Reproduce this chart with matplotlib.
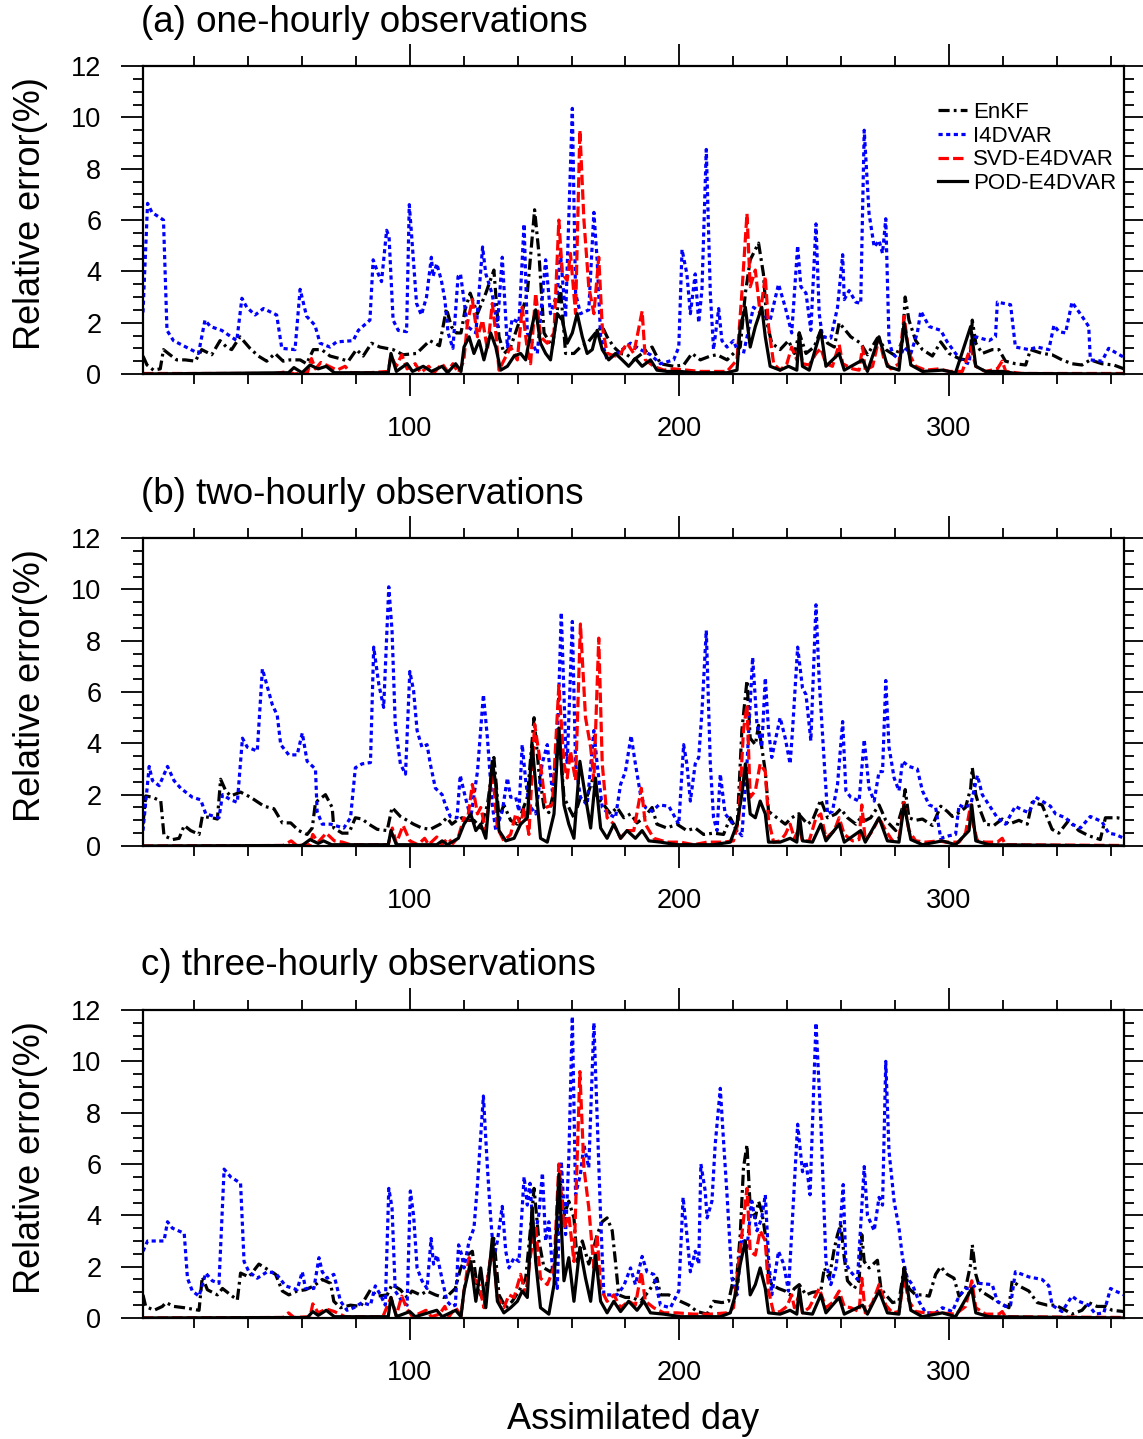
import numpy as np
import matplotlib
matplotlib.use("Agg")
from matplotlib import pyplot as plt
from matplotlib.ticker import MultipleLocator

plt.rcParams["font.family"] = ["Liberation Sans", "DejaVu Sans"]
plt.rcParams["lines.scale_dashes"] = False

titles = ["(a) one-hourly observations", "(b) two-hourly observations",
          "c) three-hourly observations"]
names = ["EnKF", "I4DVAR", "SVD-E4DVAR", "POD-E4DVAR"]
colors = ["black", "blue", "red", "black"]
styles = [(0, (8, 3, 2, 3)), (0, (3, 2.5)), (0, (7.5, 3)), "-"]

# (day, relative error %)
# ---- (a) one-hourly
a_enkf = [(1, 0.7), (2.5, 0.35), (4.9, 0.15), (7.4, 0.2), (8.6, 0.95), (11, 0.75), (13.5, 0.55), (16.7, 0.55),
          (20.4, 0.5), (22.8, 0.95), (26.5, 0.75), (29.6, 1.3), (32, 1.05), (33.9, 0.95), (37, 1.45), (40.7, 1.0),
          (43.8, 0.7), (46.9, 0.5), (50, 0.8), (53, 0.5), (55.5, 0.55), (59.3, 0.55), (61.7, 0.4), (64.2, 0.95),
          (67.3, 0.95), (70.4, 0.7), (74, 0.6), (77.2, 0.5), (80.2, 0.95), (82.7, 0.7), (85.8, 1.2), (88.9, 1.05),
          (93.8, 0.95), (97.5, 0.75), (102.5, 0.8), (107.4, 1.3), (111, 1.1), (113.6, 2.55), (115.4, 1.85),
          (117.3, 1.6), (119, 1.6), (120.5, 2.5), (122.4, 3.15), (125.1, 2.35), (128.2, 3.15), (131.2, 4.05),
          (133.1, 1.45), (135, 0.8), (137.4, 1.05), (140.5, 2.0), (143.6, 3.15), (146.3, 6.4), (147.9, 4.7),
          (149.8, 1.6), (152.9, 1.05), (155.9, 3.4), (157.8, 0.8), (160.9, 0.8), (163.3, 1.05), (165.8, 1.2),
          (168.9, 1.6), (171.4, 1.85), (173.2, 1.45), (175.7, 1.05), (178.2, 0.8), (180.6, 0.75), (183.1, 0.55),
          (186.2, 0.8), (189.9, 1.05), (193, 0.4), (197.9, 0.3), (201.6, 0.35), (204.7, 0.8), (207.8, 0.55),
          (211.5, 0.7), (214, 0.75), (217.7, 0.55), (220.1, 0.8), (222.6, 1.05), (224.5, 3.15), (226.3, 4.45),
          (229.4, 5.1), (231.2, 3.9), (232.5, 2.0), (234.3, 1.2), (237.4, 0.95), (240.5, 1.3), (242.7, 0.8),
          (244.5, 1.6), (247, 0.8), (250, 1.05), (252.5, 1.7), (255, 1.2), (257.5, 1.05), (259.3, 2.0),
          (263.6, 1.45), (267.3, 1.2), (269.8, 0.75), (273.5, 1.4), (276.6, 0.95), (280.3, 0.7), (282.8, 1.3),
          (283.8, 3.0), (285.2, 2.1), (287.7, 1.3), (290.2, 0.95), (293.9, 0.7), (297, 1.25), (300.1, 0.8),
          (303.8, 0.6), (306.2, 0.55), (308.1, 0.85), (308.7, 2.1), (310, 1.2), (312.4, 0.8), (316.1, 0.95),
          (318.6, 0.95), (321, 0.5), (324.7, 0.4), (328.5, 0.35), (330.3, 0.95), (334.6, 0.8), (338.3, 0.75),
          (342, 0.55), (345.7, 0.4), (349.4, 0.35), (352.5, 0.55), (356.8, 0.4), (361.2, 0.35), (365, 0.2)]
a_i4dvar = [(1, 2.4), (2.7, 6.65), (4.3, 6.3), (8.6, 6.0), (9.9, 1.7), (12.3, 1.3), (16, 1.1), (21.6, 0.8),
            (24, 2.1), (26, 1.85), (30.2, 1.7), (35.8, 1.3), (37.7, 2.95), (39.5, 2.6), (42.6, 2.3), (45.7, 2.55),
            (50.6, 2.3), (52.5, 1.0), (57.4, 0.95), (59.3, 3.3), (61.7, 2.25), (64.8, 1.9), (66.7, 1.2),
            (70.4, 1.05), (72.8, 1.25), (79, 1.3), (80.9, 1.7), (85.2, 2.1), (86.4, 4.45), (88.3, 3.9),
            (89.5, 3.6), (91.4, 5.6), (92.3, 5.35), (93.8, 2.1), (95.7, 1.7), (98.8, 1.65), (99.8, 6.6),
            (100.6, 5.5), (102.5, 2.75), (104.3, 2.3), (106.2, 3.0), (108, 4.55), (108.6, 3.8), (110, 4.3),
            (111.7, 3.65), (113, 2.9), (114.2, 1.6), (116, 1.0), (117.9, 3.8), (118.8, 3.9), (121.4, 1.85),
            (124.5, 1.6), (127, 4.95), (128.2, 3.9), (130.6, 3.1), (132.5, 1.85), (134.3, 4.55), (135.6, 2.2),
            (136.2, 1.05), (138, 2.15), (140.5, 2.0), (142.4, 5.85), (143.6, 1.6), (147.3, 0.8), (150.4, 4.45),
            (152.2, 2.35), (154.7, 3.15), (155.9, 4.7), (157.8, 2.2), (160.3, 10.35), (161.5, 3.15), (163.3, 2.35),
            (166.4, 2.5), (168.3, 6.3), (169.5, 4.45), (170.8, 1.45), (173.2, 0.55), (176.9, 0.8), (181.9, 1.2),
            (185.6, 0.95), (189.3, 0.75), (193, 0.4), (197.9, 0.55), (199.8, 1.05), (201, 4.85), (202.8, 3.9),
            (204.1, 2.35), (205.9, 3.9), (207.2, 2.0), (208.4, 3.3), (210, 8.75), (211.5, 3.15), (212.7, 0.95),
            (214.6, 2.55), (215.8, 1.3), (217.7, 1.05), (220.1, 1.3), (222, 0.8), (223.8, 0.8), (227.5, 2.6),
            (230.6, 2.35), (233.7, 2.1), (236.8, 3.5), (239.3, 2.6), (241.7, 1.6), (243.9, 5.0), (245.1, 3.4),
            (247, 3.15), (248.8, 1.7), (250.7, 5.85), (251.9, 2.35), (253.1, 1.45), (256.2, 1.4), (258.7, 2.6),
            (260.6, 4.65), (261.2, 2.9), (263, 3.25), (265.5, 2.8), (267.3, 2.75), (268.6, 9.5), (270.4, 6.25),
            (272.3, 4.95), (274.1, 5.2), (275.4, 4.7), (276.6, 6.05), (277.8, 1.3), (279.1, 0.8), (281.5, 0.55),
            (283.4, 1.05), (285.9, 0.8), (288.3, 1.6), (289.6, 2.45), (292.7, 1.85), (297, 1.7), (299.4, 1.25),
            (302.5, 0.8), (305, 0.5), (307.5, 0.4), (308.1, 0.95), (310, 1.45), (314.9, 1.3), (317.3, 1.45),
            (318, 2.8), (322.9, 2.7), (324.7, 1.05), (329.7, 0.95), (332.8, 1.05), (337.1, 0.95), (339, 1.9),
            (340.8, 1.65), (343.3, 1.6), (345.7, 2.8), (349.4, 2.25), (351.9, 1.85), (352.5, 0.55), (356.8, 0.5),
            (359.3, 1.0), (362.4, 0.8), (365, 0.65)]
a_svd = [(1, 0.02), (50, 0.02), (55, 0.1), (57, 0.0), (62, 0.05), (63.5, 0.6), (65, 0.2), (67, 0.45), (70, 0.3),
         (73, 0.15), (76, 0.3), (78, 0.05), (85, 0.05), (92, 0.1), (93, 0.7), (95, 0.3), (97, 0.75), (99, 0.2),
         (102, 0.4), (104, 0.05), (107, 0.3), (109, 0.05), (112, 0.4), (114, 0.1), (116, 0.4), (118, 0.05),
         (120, 0.5), (121.4, 2.0), (123.2, 2.9), (125.1, 1.45), (127, 2.1), (128.8, 0.95), (130.6, 2.75),
         (131.9, 1.6), (133.1, 0.15), (135, 0.55), (137.4, 1.05), (139.9, 0.55), (141.7, 2.6), (143.6, 0.95),
         (144.8, 0.4), (146.7, 3.15), (148.5, 1.45), (151, 1.2), (153.5, 1.6), (155.3, 6.0), (156.6, 3.9),
         (158.4, 3.65), (159.6, 4.7), (161.5, 2.35), (163.1, 9.5), (164.6, 6.0), (166.4, 3.4), (168.3, 2.35),
         (170.1, 4.55), (171.4, 1.85), (173.2, 0.8), (176.3, 0.7), (178.2, 0.8), (180.6, 1.2), (183.1, 0.8),
         (186.2, 2.45), (187.4, 0.55), (190.5, 0.3), (194.2, 0.15), (197.9, 0.2), (202.8, 0.15), (207.8, 0.1),
         (212.7, 0.1), (217.7, 0.1), (221.4, 0.55), (223.2, 3.15), (225.1, 6.25), (226.3, 3.4), (228.2, 4.05),
         (230, 2.35), (231.9, 3.8), (233.1, 1.85), (235, 0.4), (237.4, 0.15), (239.9, 0.4), (241.7, 1.05),
         (243.6, 0.55), (244.5, 1.25), (245.7, 0.4), (248.2, 0.35), (250.7, 0.8), (252.5, 1.0), (254.4, 0.4),
         (256.8, 0.3), (259.3, 1.15), (260.6, 0.4), (264.3, 0.2), (266.7, 0.15), (268, 1.05), (269, 0.15),
         (271.7, 0.3), (274.1, 1.4), (276, 0.55), (278.5, 0.2), (281.5, 0.4), (283.4, 2.25), (285.2, 0.8),
         (287.7, 0.3), (291.4, 0.15), (296.4, 0.2), (300.1, 0.1), (305, 0.1), (308.1, 1.05), (310, 0.3),
         (313.6, 0.1), (318, 0.2), (319.8, 0.5), (321.1, 0.1), (327.2, 0.02), (365, 0.02)]
a_pod = [(1, 0.0), (55, 0.05), (57, 0.25), (60, 0.05), (63, 0.35), (66, 0.2), (69, 0.3), (72, 0.05), (80, 0.05),
         (92, 0.05), (93, 0.8), (95, 0.1), (99, 0.4), (101, 0.1), (105, 0.3), (108, 0.1), (112, 0.3), (114, 0.05),
         (117, 0.4), (119, 0.1), (120.1, 1.05), (122, 1.45), (123.8, 0.8), (125.7, 1.3), (127.5, 0.55), (130, 1.6),
         (131.9, 1.05), (133.7, 0.15), (136.2, 0.3), (138.7, 0.7), (141.1, 0.8), (143, 0.55), (144.8, 1.6),
         (146.7, 2.5), (148.5, 1.2), (150.4, 0.8), (152.2, 0.55), (154.7, 2.35), (156.6, 2.1), (158.4, 1.2),
         (160.3, 1.6), (162.1, 2.35), (164, 1.45), (165.8, 0.8), (167.7, 0.95), (169.5, 1.7), (171.4, 0.95),
         (173.8, 0.55), (176.3, 0.8), (178.8, 0.55), (181.2, 0.3), (183.7, 0.6), (186.2, 0.3), (189.3, 0.55),
         (191.7, 0.15), (195.4, 0.1), (200.4, 0.1), (205.3, 0.05), (211.5, 0.05), (217.7, 0.05), (221.4, 0.15),
         (222.6, 1.85), (224.5, 2.6), (226.3, 1.05), (228.2, 1.85), (230.6, 2.6), (231.9, 1.45), (233.7, 0.3),
         (237.4, 0.15), (240.5, 0.3), (243.6, 0.15), (244.5, 1.6), (245.7, 0.3), (248.2, 0.15), (252.5, 1.7),
         (254.4, 0.3), (259.3, 0.8), (261.2, 0.15), (268, 0.55), (269.8, 0.1), (274.1, 1.45), (277.2, 0.3),
         (281.5, 0.15), (283.4, 2.0), (285.9, 0.35), (290.2, 0.1), (297.6, 0.15), (302.5, 0.05), (308.1, 1.85),
         (310, 0.3), (313.6, 0.1), (319.8, 0.1), (325, 0.02), (365, 0.0)]

# ---- (b) two-hourly
b_enkf = [(1, 0.85), (2, 1.95), (4.5, 1.9), (7.6, 1.75), (8.8, 0.4), (12, 0.25), (14.4, 0.3), (16.3, 0.8),
          (18.7, 0.6), (21.8, 0.45), (23, 1.15), (26.7, 1.1), (28.6, 1.05), (29.8, 2.6), (31.7, 2.15), (33.5, 1.95),
          (37.2, 2.1), (40.9, 1.9), (45.9, 1.55), (49.6, 1.45), (52.7, 0.9), (55.8, 0.9), (58.8, 0.6), (61.9, 0.45),
          (63.8, 0.7), (65, 1.7), (68.7, 2.0), (71.2, 1.5), (71.8, 0.7), (74.9, 0.5), (77.4, 0.5), (79.8, 1.1),
          (82.3, 1.05), (84.8, 0.85), (87.9, 0.65), (91.6, 0.6), (93.4, 1.5), (96.5, 1.15), (99, 1.0),
          (101.4, 0.85), (104.5, 0.7), (107.6, 0.65), (111.3, 0.85), (113.8, 1.1), (115.6, 0.85), (117.5, 1.0),
          (119.4, 1.1), (121.4, 1.0), (123.8, 1.0), (126.3, 0.7), (128.8, 1.6), (131.2, 3.45), (133.1, 1.1),
          (134.9, 1.6), (137.4, 1.0), (139.9, 0.85), (141.7, 1.35), (143.6, 1.9), (146.1, 5.0), (147.9, 2.9),
          (149.8, 1.5), (151.6, 1.3), (153.5, 2.15), (155.3, 4.5), (157.2, 1.9), (159, 1.5), (160.9, 1.1),
          (163.3, 1.9), (165.2, 1.75), (167.7, 2.55), (169.5, 1.9), (172, 1.6), (174.5, 1.25), (176.9, 1.5),
          (179.4, 1.1), (181.9, 1.25), (184.3, 0.9), (186.8, 1.1), (189.9, 1.5), (191.7, 0.85), (195.4, 0.7),
          (199.1, 0.85), (202.8, 0.6), (205.9, 0.7), (209, 0.45), (212.7, 0.5), (216.4, 0.45), (218.9, 1.1),
          (221.4, 0.6), (223.2, 4.5), (225.1, 6.45), (226.3, 4.2), (228.2, 3.95), (229.4, 4.7), (230.6, 3.85),
          (231.9, 2.9), (233.1, 1.35), (236.2, 1.1), (239.3, 0.85), (241.7, 1.1), (244.2, 1.25), (247.6, 0.85),
          (249.4, 1.0), (252.5, 1.8), (255, 1.1), (258.1, 1.25), (259.9, 1.45), (262.4, 1.1), (265.5, 0.85),
          (267.3, 1.1), (269.2, 1.0), (271, 1.1), (274.1, 1.6), (276.6, 1.0), (280.3, 0.6), (282.8, 1.5),
          (283.8, 2.2), (285.2, 1.1), (287.7, 1.0), (290.2, 1.05), (293.9, 0.8), (297, 1.55), (299.4, 1.35),
          (301.3, 1.15), (303.8, 1.3), (306.2, 1.5), (308.1, 2.25), (308.7, 3.05), (310, 2.0), (311.8, 1.35),
          (313.6, 0.85), (316.7, 0.8), (319.8, 1.05), (322.3, 0.85), (326, 1.0), (329.1, 0.85), (330.9, 1.7),
          (334.6, 1.6), (338.3, 0.65), (340.8, 0.5), (344.5, 1.0), (348.2, 0.6), (351.9, 0.4), (356.2, 0.25),
          (358.1, 1.1), (362.4, 1.1), (365, 1.05)]
b_i4dvar = [(1, 0.6), (3.3, 3.1), (4.5, 2.55), (7, 2.35), (10.1, 3.1), (12.5, 2.55), (15, 2.25), (19.3, 1.9),
            (22.4, 1.8), (24.3, 1.25), (29.2, 1.1), (30.5, 2.0), (33.5, 1.8), (36, 1.7), (37.9, 4.2), (39.7, 3.85),
            (43.4, 3.7), (45.3, 6.9), (46.5, 6.45), (49, 5.5), (50.8, 5.1), (52.1, 3.95), (55.1, 3.55),
            (58.2, 3.55), (60.1, 4.4), (61.9, 3.3), (65, 3.0), (65.6, 1.35), (67.5, 0.85), (70.6, 0.85),
            (75.5, 0.7), (78, 1.1), (79.8, 3.05), (82.3, 3.2), (85.4, 3.25), (86.6, 7.75), (88.5, 6.3),
            (90.3, 5.4), (92.2, 10.1), (93.4, 8.4), (94.6, 4.75), (96.5, 3.2), (98.4, 2.8), (100, 6.8),
            (101.4, 6.05), (102.7, 4.5), (104.5, 3.85), (106.4, 3.95), (107.6, 3.2), (109.5, 2.25), (112, 2.0),
            (113.2, 1.6), (115, 1.15), (117.5, 1.1), (118.7, 2.75), (120.6, 1.9), (122.6, 1.1), (125.1, 2.9),
            (127.3, 5.9), (128.8, 4.2), (130.6, 1.6), (131.9, 0.6), (134.3, 1.35), (136.2, 2.65), (137.4, 1.9),
            (139.3, 1.9), (140.5, 1.35), (141.7, 3.95), (143, 2.55), (144.2, 1.6), (146.7, 1.25), (149.1, 3.2),
            (151, 3.95), (152.9, 2.15), (154.7, 3.95), (156.2, 9.1), (157.8, 3.95), (158.4, 3.2), (160.3, 8.75),
            (161.5, 3.2), (163.3, 1.9), (165.8, 1.6), (168.3, 4.5), (169.5, 3.2), (171.4, 1.5), (173.8, 1.25),
            (176.3, 1.1), (178.2, 2.4), (180, 2.9), (182.1, 4.3), (183.7, 3.2), (185.6, 2.0), (187.4, 1.5),
            (189.9, 1.35), (192.4, 1.6), (196.1, 1.55), (199.8, 0.85), (201.6, 3.95), (202.8, 3.2), (204.1, 1.75),
            (205.9, 3.2), (207.2, 3.45), (208.4, 5.25), (210, 8.4), (211.5, 3.2), (212.7, 1.1), (214, 0.6),
            (215.2, 2.8), (217, 1.25), (218.9, 1.0), (220.8, 0.7), (223.2, 0.4), (225.1, 3.2), (227.2, 7.35),
            (228.8, 4.75), (230.6, 3.85), (231.9, 6.55), (233.1, 4.5), (234.3, 3.45), (237.4, 5.0), (239.3, 4.2),
            (241.1, 3.2), (242, 4.5), (243.9, 7.75), (245.7, 6.15), (247, 5.9), (248.8, 4.1), (250.7, 9.4),
            (251.9, 6.45), (253.8, 3.2), (255, 1.25), (256.8, 1.35), (258.7, 2.4), (260.6, 4.85), (261.8, 2.15),
            (263.6, 1.9), (266.7, 1.75), (268.6, 4.15), (270.4, 2.25), (272.3, 1.75), (274.1, 2.9), (275.4, 2.9),
            (276.6, 6.45), (277.8, 3.85), (279.7, 2.65), (281.5, 2.15), (282.8, 3.3), (285.2, 3.1), (288.3, 3.0),
            (290.2, 2.15), (292.7, 1.6), (295.1, 1.5), (297, 0.3), (300.1, 0.4), (302.5, 0.45), (303.8, 1.6),
            (305.6, 1.5), (308.1, 1.6), (310.6, 2.75), (312.4, 2.0), (314.9, 1.6), (318, 1.1), (321, 0.85),
            (324.7, 1.55), (327.2, 1.4), (329.7, 1.3), (332.2, 1.9), (334.6, 1.75), (337.7, 1.55), (339.6, 1.25),
            (343.3, 1.1), (345.7, 0.85), (348.8, 0.7), (352.5, 1.15), (356.8, 0.95), (359.3, 0.5), (361.8, 0.45),
            (365, 0.3)]
b_svd = [(1, 0.0), (53, 0.02), (56, 0.2), (58, 0.02), (63, 0.05), (64, 0.45), (66, 0.15), (69, 0.5), (72, 0.2),
         (75, 0.15), (78, 0.05), (92, 0.05), (93.5, 0.7), (95, 0.1), (97.5, 0.8), (100, 0.2), (103, 0.05),
         (105.5, 0.3), (107, 0.05), (110, 0.35), (112, 0.05), (114, 0.3), (116, 0.1), (118, 0.35), (120.1, 1.1),
         (121.4, 1.0), (123.2, 2.4), (125.1, 1.25), (126.3, 1.5), (128.2, 0.6), (130.6, 3.05), (132.5, 0.7),
         (134.9, 0.2), (137.4, 0.45), (139.3, 1.25), (141.1, 0.85), (142.4, 1.5), (144.2, 0.45), (146.3, 4.75),
         (148.5, 3.2), (150.4, 1.5), (152.9, 1.6), (155.3, 6.25), (157.2, 3.2), (158.4, 2.65), (159.6, 3.7),
         (161.5, 2.55), (163.3, 8.65), (165.2, 5.0), (167.1, 3.85), (168.3, 2.55), (170.1, 8.1), (171.4, 3.2),
         (173.2, 1.1), (175.7, 0.85), (178.2, 0.3), (180.6, 0.6), (183.1, 0.6), (185.9, 2.25), (187.4, 0.85),
         (190.5, 0.3), (195.4, 0.15), (200.4, 0.15), (205.3, 0.05), (210.3, 0.15), (216.4, 0.15), (220.1, 0.2),
         (222, 1.0), (223.8, 4.5), (225.1, 5.5), (226.3, 1.9), (228.2, 2.15), (230, 3.2), (231.9, 2.9),
         (233.1, 1.0), (235, 0.15), (237.4, 0.2), (239.3, 0.45), (241.1, 0.85), (242.7, 0.3), (244.5, 0.7),
         (245.7, 0.2), (248.2, 0.2), (250.7, 1.1), (252.5, 1.25), (254.4, 0.3), (257.5, 0.6), (259.3, 1.1),
         (261.2, 0.45), (264.3, 0.2), (266.7, 0.25), (267.7, 1.6), (269, 0.2), (271.7, 0.6), (274.1, 1.1),
         (276.6, 0.6), (279.1, 0.2), (281.5, 0.3), (283.4, 1.7), (285.2, 0.6), (287.7, 0.2), (291.4, 0.15),
         (296.4, 0.2), (298.8, 0.15), (303.8, 0.15), (306.2, 0.5), (308.1, 1.6), (309, 0.85), (310.6, 0.2),
         (313.6, 0.15), (318, 0.15), (319.8, 0.3), (321, 0.05), (365, 0.02)]
b_pod = [(1, 0.0), (60, 0.02), (63, 0.25), (66, 0.1), (68, 0.2), (71, 0.05), (92, 0.05), (93, 0.6), (95, 0.05),
         (110, 0.05), (112, 0.2), (114, 0.05), (118, 0.3), (120.1, 0.85), (122.6, 1.25), (124.5, 0.6),
         (126.3, 0.85), (128.2, 0.3), (130.6, 3.3), (131.9, 2.4), (133.1, 0.6), (135.6, 0.2), (138.7, 0.3),
         (141.1, 0.85), (143.6, 1.1), (145.4, 3.95), (146.7, 2.4), (148.5, 0.3), (151, 0.15), (153.5, 1.25),
         (155.3, 4.6), (157.2, 1.6), (159, 0.85), (160.9, 0.3), (163.1, 3.3), (165.2, 1.9), (167.1, 0.7),
         (168.9, 2.65), (170.8, 0.7), (173.2, 0.3), (175.7, 0.85), (178.2, 0.3), (180.6, 0.6), (183.7, 0.3),
         (186.2, 0.6), (188.7, 0.2), (193, 0.15), (199.1, 0.05), (205.3, 0.05), (212.7, 0.05), (218.9, 0.15),
         (221.4, 0.85), (223.2, 2.0), (224.5, 3.2), (226.3, 1.25), (228.2, 1.1), (230, 1.75), (231.9, 1.25),
         (233.1, 0.15), (237.4, 0.15), (241.1, 0.3), (243.6, 0.15), (244.5, 1.25), (245.7, 0.2), (249.4, 0.15),
         (252.5, 0.85), (254.4, 0.2), (259.3, 0.85), (261.2, 0.15), (267.3, 0.6), (269, 0.15), (274.1, 1.1),
         (277.2, 0.2), (281.5, 0.15), (283.4, 1.6), (285.9, 0.25), (290.2, 0.05), (297.6, 0.2), (302.5, 0.05),
         (307.5, 0.6), (308.5, 1.6), (310, 0.2), (314.9, 0.05), (365, 0.0)]

# ---- (c) three-hourly
c_enkf = [(1, 0.9), (2, 0.45), (5.1, 0.3), (8.2, 0.45), (9.5, 0.6), (12.5, 0.45), (16.3, 0.4), (21.8, 0.3),
          (23, 1.6), (24.9, 1.1), (28.6, 0.9), (30.5, 1.15), (33.5, 0.9), (36, 0.7), (37.2, 1.75), (40.3, 1.6),
          (44, 2.1), (47.1, 1.9), (50.2, 1.7), (52.7, 1.05), (55.1, 0.9), (58.2, 1.05), (61.3, 1.1), (64.4, 1.25),
          (67.5, 1.5), (70.6, 1.35), (71.8, 0.65), (74.3, 0.4), (78, 0.5), (81.7, 0.45), (85.4, 1.1), (87.9, 0.85),
          (91.6, 0.9), (93.4, 1.3), (96.5, 1.1), (99, 0.8), (100.8, 1.05), (103.9, 0.9), (106.4, 1.05),
          (109.5, 0.9), (112.5, 0.8), (114.4, 0.9), (116.9, 1.15), (118.9, 1.95), (121.4, 2.45), (123.2, 2.6),
          (125.1, 1.15), (127.5, 0.65), (131.2, 3.1), (133.1, 0.9), (135.6, 0.4), (138, 0.65), (140.5, 1.05),
          (143, 1.55), (144.8, 3.5), (146.1, 5.05), (147.9, 3.0), (149.8, 1.95), (152.2, 1.8), (154.1, 2.1),
          (155.9, 5.2), (157.2, 4.0), (159, 4.55), (160.9, 3.9), (162.1, 2.2), (164, 3.0), (166.4, 2.1),
          (168.3, 2.75), (169.5, 3.25), (171.4, 3.75), (173.2, 3.9), (175.1, 3.4), (176.3, 2.2), (177.5, 0.9),
          (180, 0.8), (182.5, 0.8), (185.6, 0.65), (188.7, 1.05), (191.7, 1.55), (193, 0.9), (196.1, 0.9),
          (200.4, 0.65), (203.5, 0.5), (206.6, 0.25), (210.3, 0.15), (212.7, 0.65), (215.8, 0.6), (218.3, 0.65),
          (220.1, 1.55), (221.4, 1.7), (222.6, 3.25), (223.8, 5.85), (225.1, 6.75), (226.3, 4.3), (228.2, 3.9),
          (229.4, 4.55), (230.6, 4.15), (231.9, 3.25), (233.1, 1.7), (234.3, 1.3), (236.8, 1.15), (239.3, 1.05),
          (241.1, 0.9), (242.7, 1.15), (244.5, 1.3), (247, 0.9), (249.4, 1.0), (252.5, 1.05), (253.8, 1.95),
          (255.6, 1.55), (257.5, 2.7), (258.7, 3.25), (259.9, 3.65), (261.2, 2.35), (262.4, 1.45), (264.9, 1.15),
          (266.7, 1.45), (267.7, 3.25), (268.6, 2.2), (270.4, 1.95), (273.5, 2.25), (274.8, 1.15), (276.6, 0.9),
          (279.1, 0.6), (281.5, 0.65), (283.4, 1.95), (285.2, 1.15), (287.7, 0.9), (290.2, 0.9), (292.7, 0.85),
          (295.1, 1.7), (297, 2.0), (299.4, 1.7), (301.9, 1.55), (303.8, 0.85), (306.2, 1.15), (308.1, 2.1),
          (308.7, 2.85), (310, 1.7), (311.8, 1.05), (314.9, 0.85), (318.6, 0.6), (322.3, 0.4), (323.5, 1.45),
          (326, 1.25), (329.7, 1.05), (332.8, 0.6), (336.5, 0.5), (339.6, 0.5), (343.3, 0.3), (345.7, 0.15),
          (349.4, 0.3), (351.9, 0.6), (355, 0.45), (358.1, 0.45), (360.6, 0.3), (365, 0.25)]
c_i4dvar = [(1, 2.6), (2.7, 3.0), (8.8, 3.0), (10.1, 3.75), (11.9, 3.5), (16.3, 3.3), (17.5, 1.55), (19.3, 1.05),
            (21.8, 0.85), (24.3, 1.75), (26.7, 1.45), (29.2, 1.35), (31.1, 5.8), (33.5, 5.5), (37.2, 5.25),
            (38.5, 2.2), (40.3, 1.8), (43.4, 1.55), (47.1, 1.8), (50.2, 1.75), (53.9, 1.25), (58.2, 1.1),
            (60.1, 1.8), (61.3, 1.15), (64.4, 1.15), (66.3, 2.35), (67.5, 1.8), (69.3, 1.55), (71.8, 1.7),
            (74.3, 0.65), (76.7, 0.3), (79.2, 0.4), (82.3, 0.6), (85.4, 0.5), (87.2, 1.25), (89.1, 0.9),
            (90.9, 0.5), (92.2, 5.05), (93.4, 4.3), (94.6, 1.05), (97.1, 0.65), (99, 0.5), (100.2, 4.95),
            (101.4, 4.0), (102.7, 1.95), (104.5, 1.45), (106.4, 1.15), (107.9, 3.1), (108.8, 2.1), (110.1, 2.45),
            (111.9, 1.55), (113.8, 0.65), (115.6, 0.45), (116.9, 0.5), (118.1, 2.85), (119.3, 2.45), (120.1, 1.95),
            (122, 3.0), (123.8, 3.5), (125.1, 5.2), (127.3, 8.65), (128.8, 5.85), (130, 3.9), (131.2, 2.35),
            (132.5, 3.0), (134.3, 4.35), (135.6, 2.6), (136.8, 1.95), (138.7, 2.35), (140.5, 2.2), (142.4, 5.5),
            (143.6, 4.4), (144.6, 5.25), (146.1, 3.0), (147.9, 4.05), (149.2, 5.65), (150.4, 3.0), (151.6, 3.75),
            (152.9, 1.95), (154.7, 1.15), (156.2, 6.1), (157.8, 3.25), (159, 6.25), (160.3, 11.75), (161.5, 4.8),
            (163.3, 5.6), (164.6, 6.75), (166.4, 5.85), (168.3, 11.5), (169.5, 7.8), (170.8, 3.9), (172, 0.9),
            (174.5, 0.9), (176.9, 0.9), (179.4, 1.25), (181.9, 1.95), (183.7, 1.3), (186.2, 2.4), (188, 1.8),
            (190.5, 1.7), (193, 0.5), (196.7, 0.4), (199.8, 1.05), (201.4, 4.7), (202.8, 3.25), (204.1, 1.8),
            (205.9, 2.6), (207.2, 2.1), (208, 6.0), (209.6, 4.95), (210.3, 3.9), (212.1, 4.55), (213.3, 6.75),
            (215.2, 8.95), (216.4, 6.9), (217.7, 4.8), (219.5, 1.55), (221.4, 0.9), (223.2, 3.25), (225.1, 2.75),
            (226.9, 4.55), (228.8, 3.4), (230.6, 3.9), (231.9, 4.8), (233.1, 2.35), (234.3, 0.9), (236.8, 2.6),
            (238.7, 2.1), (240.5, 1.05), (242, 3.9), (243.9, 7.55), (245.7, 5.7), (247, 6.1), (248.5, 4.8),
            (250.7, 11.5), (252.5, 7.65), (254.4, 2.2), (256.2, 1.3), (258.1, 1.95), (259.3, 3.0), (260.8, 5.2),
            (261.8, 2.1), (263.6, 1.8), (266.1, 1.5), (268.6, 5.9), (269.8, 4.0), (272.3, 3.4), (274.1, 4.7),
            (275.4, 4.4), (276.6, 10.0), (277.8, 6.5), (279.7, 4.55), (281.5, 3.5), (282.8, 2.35), (284.6, 1.55),
            (286.5, 1.3), (288.9, 0.65), (291.4, 0.2), (295.1, 0.2), (297.6, 0.4), (301.3, 0.25), (303.8, 0.85),
            (306.2, 1.15), (308.1, 1.15), (311.2, 1.35), (316.1, 1.3), (318, 0.65), (321, 0.45), (322.9, 0.5),
            (324.7, 1.8), (329.7, 1.6), (334.6, 1.5), (337.1, 1.25), (338.3, 0.5), (342, 0.25), (345.7, 0.85),
            (348.2, 0.65), (351.9, 0.5), (354.4, 0.15), (357.5, 0.2), (360, 1.15), (361.8, 1.05), (365, 0.9)]
c_svd = [(1, 0.0), (53, 0.02), (55, 0.2), (57, 0.02), (63, 0.05), (64, 0.55), (66, 0.2), (69, 0.35), (72, 0.25),
         (74, 0.15), (76, 0.05), (90, 0.05), (93, 0.8), (95, 0.1), (97, 0.85), (99, 0.35), (101, 0.05),
         (103, 0.15), (106, 0.3), (108, 0.05), (111, 0.15), (113, 0.45), (114.5, 0.05), (117, 0.4), (119, 0.1),
         (120.1, 1.05), (122, 2.35), (123.8, 1.55), (125.7, 1.3), (127.5, 0.4), (130.6, 2.85), (132.5, 0.8),
         (134.9, 0.4), (136.8, 0.9), (138.7, 0.8), (141.1, 1.7), (143, 0.9), (144.8, 2.45), (146.7, 3.5),
         (148.5, 1.55), (151, 1.3), (153.5, 1.95), (155.3, 6.0), (157.2, 3.5), (159, 4.0), (160.9, 2.2),
         (163.1, 9.6), (164.6, 5.85), (166.4, 4.3), (168.3, 1.95), (169.5, 3.25), (170.8, 1.15), (173.2, 0.65),
         (175.7, 0.9), (178.2, 0.4), (181.2, 0.65), (183.7, 0.5), (185.9, 1.8), (187.4, 0.65), (190.5, 0.4),
         (194.2, 0.2), (199.1, 0.2), (205.3, 0.15), (211.5, 0.15), (217.7, 0.2), (220.1, 0.4), (223.2, 3.25),
         (225.1, 5.05), (226.3, 2.6), (228.2, 2.45), (230, 3.4), (231.9, 3.0), (233.1, 1.05), (235, 0.2),
         (237.4, 0.25), (239.9, 0.45), (241.7, 0.9), (242.7, 0.4), (244.5, 0.9), (245.7, 0.2), (248.2, 0.4),
         (251.9, 1.15), (254.4, 0.4), (256.8, 0.6), (259.3, 1.05), (261.2, 0.45), (263.6, 0.4), (266.7, 0.25),
         (267.7, 1.55), (269, 0.2), (271.7, 0.6), (274.1, 1.3), (276.6, 0.5), (279.1, 0.2), (281.5, 0.25),
         (283.4, 1.55), (285.2, 0.65), (287.7, 0.25), (291.4, 0.2), (296.4, 0.2), (302.5, 0.15), (306.2, 0.45),
         (308.5, 1.45), (310, 0.4), (313.6, 0.15), (318.6, 0.15), (319.8, 0.25), (321, 0.05), (365, 0.02)]
c_pod = [(1, 0.0), (62, 0.02), (64, 0.25), (66, 0.1), (69, 0.3), (72, 0.05), (92, 0.05), (93, 0.8), (95, 0.05),
         (100, 0.25), (102, 0.05), (110, 0.3), (112, 0.05), (117, 0.3), (119, 0.05), (120.1, 1.05), (122.6, 2.2),
         (124.5, 0.65), (126.3, 1.95), (128.2, 0.4), (130.6, 3.1), (132.5, 0.65), (134.9, 0.2), (137.4, 0.4),
         (139.9, 0.65), (141.7, 1.05), (143.6, 0.8), (145.4, 4.3), (146.7, 2.2), (148.5, 0.4), (151.6, 0.15),
         (153.5, 1.3), (155.3, 5.6), (157.2, 1.45), (159, 2.35), (160.9, 0.65), (163.1, 2.75), (165.2, 1.55),
         (167.1, 0.65), (168.9, 2.45), (170.8, 0.65), (173.2, 0.2), (175.7, 0.65), (178.2, 0.25), (181.2, 0.65),
         (184.3, 0.3), (186.8, 0.65), (189.3, 0.2), (194.2, 0.15), (200.4, 0.05), (207.8, 0.05), (215.2, 0.05),
         (218.9, 0.2), (220.8, 0.9), (222.6, 2.1), (224.5, 3.0), (226.3, 0.9), (228.2, 1.3), (230, 1.95),
         (231.9, 1.15), (233.1, 0.2), (237.4, 0.15), (241.1, 0.3), (243.6, 0.15), (244.5, 1.15), (245.7, 0.2),
         (249.4, 0.15), (252.5, 0.9), (254.4, 0.2), (259.3, 0.8), (261.2, 0.15), (268, 0.5), (269.8, 0.15),
         (274.1, 1.05), (277.2, 0.2), (281.5, 0.15), (283.4, 1.95), (285.9, 0.3), (290.2, 0.05), (297.6, 0.2),
         (302.5, 0.05), (308.5, 1.15), (310, 0.2), (314.9, 0.05), (365, 0.0)]

panels = [[a_enkf, a_i4dvar, a_svd, a_pod],
          [b_enkf, b_i4dvar, b_svd, b_pod],
          [c_enkf, c_i4dvar, c_svd, c_pod]]

fig = plt.figure(figsize=(11.43, 14.39), dpi=100)
bottoms = [0.7401, 0.4121, 0.0841]

for k in range(3):
    ax = fig.add_axes([0.1251, bottoms[k], 0.8583, 0.2140])
    for data, name, c, ls in zip(panels[k], names, colors, styles):
        d = np.array(data)
        ax.plot(d[:, 0], d[:, 1], color=c, linestyle=ls, lw=2.3, label=name)

    ax.set_xlim(1, 365)
    ax.set_ylim(0, 12)
    ax.set_xticks([100, 200, 300])
    ax.xaxis.set_minor_locator(MultipleLocator(20))
    ax.set_yticks(np.arange(0, 13, 2))
    ax.yaxis.set_minor_locator(MultipleLocator(0.5))
    ax.tick_params(which="both", direction="out", top=True, right=True,
                   labeltop=False, labelright=False, labelsize=19.5, pad=14)
    ax.tick_params(which="major", length=16, width=1.3)
    ax.tick_params(which="minor", length=7.5, width=1.3)
    for sp in ax.spines.values():
        sp.set_linewidth(1.6)

    ax.text(-0.002, 1.143, titles[k], transform=ax.transAxes, fontsize=26.5,
            ha="left", va="center")
    ax.set_ylabel("Relative error(%)", fontsize=26, va="center")
    ax.yaxis.set_label_coords(-0.115, 0.52)

    if k == 0:
        ax.legend(loc="upper left", bbox_to_anchor=(0.81, 0.883), frameon=False,
                  fontsize=16, handlelength=1.3, handletextpad=0.3,
                  labelspacing=0.12, borderpad=0, borderaxespad=0)
    if k == 2:
        ax.set_xlabel("Assimilated day", fontsize=26, va="center")
        ax.xaxis.set_label_coords(0.5, -0.33)

fig.savefig("out.png", dpi=100)
